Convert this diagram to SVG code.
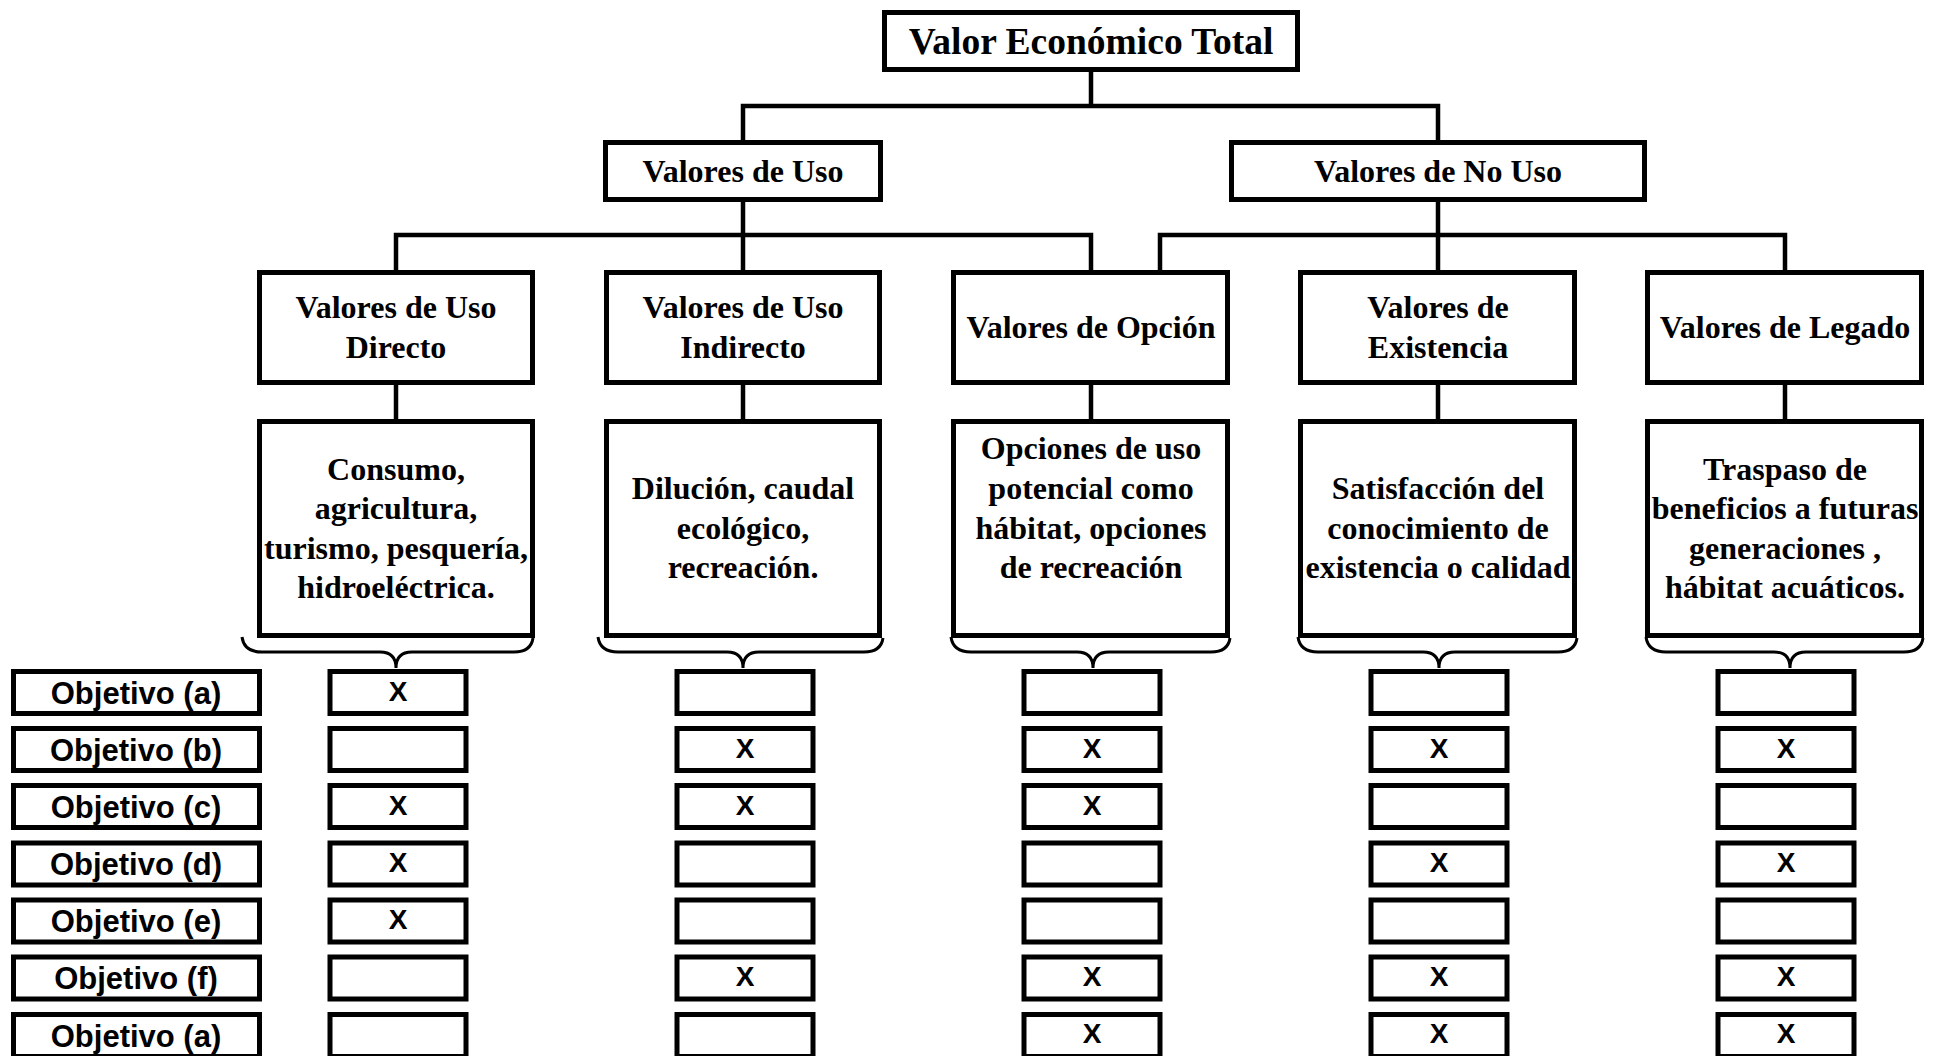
<svg xmlns="http://www.w3.org/2000/svg" width="1942" height="1056" viewBox="0 0 1942 1056">
<style>
.box{fill:#fff;stroke:#000;stroke-width:5}
.sbox{fill:#fff;stroke:#000;stroke-width:5}
.t{font-family:"Liberation Serif","Times New Roman",serif;font-weight:bold;font-size:32px;text-anchor:middle;fill:#000}
.title{font-size:37.5px}
.o{font-family:"Liberation Sans",Arial,sans-serif;font-weight:bold;font-size:31px;text-anchor:middle;fill:#000}
.x{font-family:"Liberation Sans",Arial,sans-serif;font-weight:bold;font-size:28px;text-anchor:middle;fill:#000}
.c{fill:none;stroke:#000;stroke-width:4.5}
.br{fill:none;stroke:#000;stroke-width:3}
</style>
<rect width="1942" height="1056" fill="#fff"/>
<g id="connectors">
<path class="c" d="M1091 72 V106 M743 140 V106 H1438 V140"/>
<path class="c" d="M743 202 V235 M396 270 V235 H1091 V270 M743 235 V270"/>
<path class="c" d="M1438 202 V235 M1160 270 V235 H1785 V270 M1438 235 V270"/>
<path class="c" d="M396 385 V419 M743 385 V419 M1091 385 V419 M1438 385 V419 M1785 385 V419"/>
</g>
<g id="braces">
<path class="br" d="M242 637 Q244 652 262 652 H380 Q396 652 396 668 Q396 652 412 652 H514 Q531 652 533 638"/>
<path class="br" d="M598 637 Q600 652 618 652 H727 Q743 652 743 668 Q743 652 759 652 H864 Q881 652 883 638"/>
<path class="br" d="M951 637 Q953 652 971 652 H1077 Q1093 652 1093 668 Q1093 652 1109 652 H1211 Q1228 652 1230 638"/>
<path class="br" d="M1298 637 Q1300 652 1318 652 H1423 Q1439 652 1439 668 Q1439 652 1455 652 H1558 Q1575 652 1577 638"/>
<path class="br" d="M1646 637 Q1648 652 1666 652 H1774 Q1790 652 1790 668 Q1790 652 1806 652 H1904 Q1921 652 1923 638"/>
</g>
<g id="n-total"><rect class="box" x="884.5" y="12.5" width="413" height="57"/><text class="t title" x="1091" y="54">Valor Económico Total</text></g>
<g id="n-uso"><rect class="box" x="605.5" y="142.5" width="275" height="57"/><text class="t" x="743" y="182">Valores de Uso</text></g>
<g id="n-nouso"><rect class="box" x="1231.5" y="142.5" width="413" height="57"/><text class="t" x="1438" y="182">Valores de No Uso</text></g>
<g id="n-directo"><rect class="box" x="259.5" y="272.5" width="273" height="110"/><text class="t" x="396" y="318">Valores de Uso</text><text class="t" x="396" y="358">Directo</text></g>
<g id="n-indirecto"><rect class="box" x="606.5" y="272.5" width="273" height="110"/><text class="t" x="743" y="318">Valores de Uso</text><text class="t" x="743" y="358">Indirecto</text></g>
<g id="n-opcion"><rect class="box" x="953.5" y="272.5" width="274" height="110"/><text class="t" x="1091" y="338">Valores de Opción</text></g>
<g id="n-existencia"><rect class="box" x="1300.5" y="272.5" width="274" height="110"/><text class="t" x="1438" y="318">Valores de</text><text class="t" x="1438" y="358">Existencia</text></g>
<g id="n-legado"><rect class="box" x="1647.5" y="272.5" width="274" height="110"/><text class="t" x="1785" y="338">Valores de Legado</text></g>
<g id="d-directo"><rect class="box" x="259.5" y="421.5" width="273" height="214"/><text class="t" x="396" y="480">Consumo,</text><text class="t" x="396" y="519">agricultura,</text><text class="t" x="396" y="559">turismo, pesquería,</text><text class="t" x="396" y="598">hidroeléctrica.</text></g>
<g id="d-indirecto"><rect class="box" x="606.5" y="421.5" width="273" height="214"/><text class="t" x="743" y="499">Dilución, caudal</text><text class="t" x="743" y="539">ecológico,</text><text class="t" x="743" y="578">recreación.</text></g>
<g id="d-opcion"><rect class="box" x="953.5" y="421.5" width="274" height="214"/><text class="t" x="1091" y="459">Opciones de uso</text><text class="t" x="1091" y="499">potencial como</text><text class="t" x="1091" y="539">hábitat, opciones</text><text class="t" x="1091" y="578">de recreación</text></g>
<g id="d-existencia"><rect class="box" x="1300.5" y="421.5" width="274" height="214"/><text class="t" x="1438" y="499">Satisfacción del</text><text class="t" x="1438" y="539">conocimiento de</text><text class="t" x="1438" y="578">existencia o calidad</text></g>
<g id="d-legado"><rect class="box" x="1647.5" y="421.5" width="274" height="214"/><text class="t" x="1785" y="480">Traspaso de</text><text class="t" x="1785" y="519">beneficios a futuras</text><text class="t" x="1785" y="559">generaciones ,</text><text class="t" x="1785" y="598">hábitat acuáticos.</text></g>
<g id="objetivos">
<g id="obj-a"><rect class="sbox" x="13.5" y="671.5" width="246" height="42"/><text class="o" x="136" y="704">Objetivo (a)</text></g>
<g id="obj-b"><rect class="sbox" x="13.5" y="728.5" width="246" height="42"/><text class="o" x="136" y="761">Objetivo (b)</text></g>
<g id="obj-c"><rect class="sbox" x="13.5" y="785.5" width="246" height="42"/><text class="o" x="136" y="818">Objetivo (c)</text></g>
<g id="obj-d"><rect class="sbox" x="13.5" y="843" width="246" height="42"/><text class="o" x="136" y="875">Objetivo (d)</text></g>
<g id="obj-e"><rect class="sbox" x="13.5" y="900" width="246" height="42"/><text class="o" x="136" y="932">Objetivo (e)</text></g>
<g id="obj-f"><rect class="sbox" x="13.5" y="957" width="246" height="42"/><text class="o" x="136" y="989">Objetivo (f)</text></g>
<g id="obj-a2"><rect class="sbox" x="13.5" y="1014.5" width="246" height="42"/><text class="o" x="136" y="1047">Objetivo (a)</text></g>
</g>
<g id="checks">
<rect class="sbox" x="330" y="671.5" width="136" height="42"/><text class="x" x="398" y="701">X</text>
<rect class="sbox" x="677" y="671.5" width="136" height="42"/>
<rect class="sbox" x="1024" y="671.5" width="136" height="42"/>
<rect class="sbox" x="1371" y="671.5" width="136" height="42"/>
<rect class="sbox" x="1718" y="671.5" width="136" height="42"/>

<rect class="sbox" x="330" y="728.5" width="136" height="42"/>
<rect class="sbox" x="677" y="728.5" width="136" height="42"/><text class="x" x="745" y="758">X</text>
<rect class="sbox" x="1024" y="728.5" width="136" height="42"/><text class="x" x="1092" y="758">X</text>
<rect class="sbox" x="1371" y="728.5" width="136" height="42"/><text class="x" x="1439" y="758">X</text>
<rect class="sbox" x="1718" y="728.5" width="136" height="42"/><text class="x" x="1786" y="758">X</text>

<rect class="sbox" x="330" y="785.5" width="136" height="42"/><text class="x" x="398" y="815">X</text>
<rect class="sbox" x="677" y="785.5" width="136" height="42"/><text class="x" x="745" y="815">X</text>
<rect class="sbox" x="1024" y="785.5" width="136" height="42"/><text class="x" x="1092" y="815">X</text>
<rect class="sbox" x="1371" y="785.5" width="136" height="42"/>
<rect class="sbox" x="1718" y="785.5" width="136" height="42"/>

<rect class="sbox" x="330" y="843" width="136" height="42"/><text class="x" x="398" y="872">X</text>
<rect class="sbox" x="677" y="843" width="136" height="42"/>
<rect class="sbox" x="1024" y="843" width="136" height="42"/>
<rect class="sbox" x="1371" y="843" width="136" height="42"/><text class="x" x="1439" y="872">X</text>
<rect class="sbox" x="1718" y="843" width="136" height="42"/><text class="x" x="1786" y="872">X</text>

<rect class="sbox" x="330" y="900" width="136" height="42"/><text class="x" x="398" y="929">X</text>
<rect class="sbox" x="677" y="900" width="136" height="42"/>
<rect class="sbox" x="1024" y="900" width="136" height="42"/>
<rect class="sbox" x="1371" y="900" width="136" height="42"/>
<rect class="sbox" x="1718" y="900" width="136" height="42"/>

<rect class="sbox" x="330" y="957" width="136" height="42"/>
<rect class="sbox" x="677" y="957" width="136" height="42"/><text class="x" x="745" y="986">X</text>
<rect class="sbox" x="1024" y="957" width="136" height="42"/><text class="x" x="1092" y="986">X</text>
<rect class="sbox" x="1371" y="957" width="136" height="42"/><text class="x" x="1439" y="986">X</text>
<rect class="sbox" x="1718" y="957" width="136" height="42"/><text class="x" x="1786" y="986">X</text>

<rect class="sbox" x="330" y="1014.5" width="136" height="42"/>
<rect class="sbox" x="677" y="1014.5" width="136" height="42"/>
<rect class="sbox" x="1024" y="1014.5" width="136" height="42"/><text class="x" x="1092" y="1043">X</text>
<rect class="sbox" x="1371" y="1014.5" width="136" height="42"/><text class="x" x="1439" y="1043">X</text>
<rect class="sbox" x="1718" y="1014.5" width="136" height="42"/><text class="x" x="1786" y="1043">X</text>
</g>
</svg>
